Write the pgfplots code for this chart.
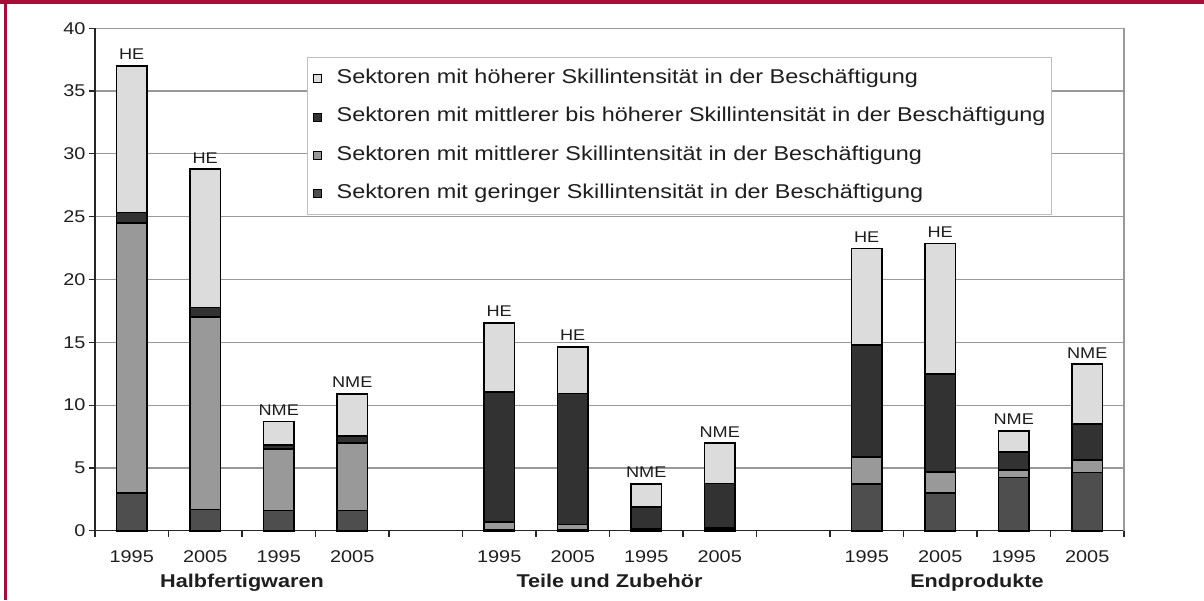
\documentclass[border=0pt]{standalone}
\usepackage{fontspec}
\setmainfont{Liberation Sans}[FakeStretch=1.17]
\usepackage{pgfplots}
\pgfplotsset{compat=1.18}
\usepackage{pgfplotstable}
\usetikzlibrary{calc}
\definecolor{frameRed}{RGB}{165,15,55}
\definecolor{cG}{RGB}{78,78,78}
\definecolor{cM}{RGB}{153,153,153}
\definecolor{cMH}{RGB}{50,50,50}
\definecolor{cH}{RGB}{220,220,220}
\definecolor{txt}{RGB}{30,30,30}
\pgfplotstableread{
x  ger   mit   mh    hoe   z      lab
0  3.00  21.50 0.85  11.65 0.001  HE
1  1.70  15.33 0.75  11.00 0.001  HE
2  1.60  4.90  0.32  1.89  0.001  NME
3  1.60  5.40  0.56  3.32  0.001  NME
5  0.10  0.60  10.36 5.50  0.001  HE
6  0.10  0.40  10.43 3.71  0.001  HE
7  0.10  0.05  1.76  1.81  0.001  NME
8  0.15  0.10  3.52  3.19  0.001  NME
10 3.72  2.17  8.89  7.70  0.001  HE
11 2.98  1.69  7.80  10.41 0.001  HE
12 4.25  0.58  1.46  1.67  0.001  NME
13 4.62  1.01  2.86  4.76  0.001  NME
}\data
\begin{document}
\begin{tikzpicture}[x=1pt,y=1pt]
\begin{axis}[
  name=ax, scale only axis, clip=false,
  width=1029pt, height=502.4pt,
  xmin=-0.5, xmax=13.5, ymin=0, ymax=40,
  ybar stacked, bar width=0.42,
  ytick={0,5,...,40},
  ymajorgrids, grid style={line width=1.2pt, color=black!40},
  axis x line*=bottom, axis y line*=left,
  axis line style={line width=1.5pt, color=black!85},
  xtick={0,1,2,3,5,6,7,8,10,11,12,13},
  xticklabels={1995,2005,1995,2005,1995,2005,1995,2005,1995,2005,1995,2005},
  minor xtick={-0.5,0.5,...,13.5},
  major x tick style={draw=none},
  minor tick length=6pt,
  xticklabel style={anchor=base, yshift=-25.8pt},
  tick align=outside, major tick length=6pt,
  tick style={line width=1.2pt, color=black!85},
  tick label style={font=\fontsize{17}{20}\selectfont, text=txt},
  /pgf/number format/assume math mode=true,
  legend style={at={(0.2057,0.9423)}, anchor=north west, draw=black!25,
     line width=0.8pt, fill=white, font=\fontsize{20}{24}\selectfont, text=txt,
     inner xsep=6pt, inner ysep=12pt, row sep=20.3pt,
     nodes={inner sep=0pt, text height=14pt, text depth=4pt}},
  legend cell align=left, reverse legend,
  legend image code/.code={\draw[#1, draw=black, line width=0.8pt] (0pt,-4pt) rectangle (8pt,4pt); \path (0pt,0pt) (22pt,0pt);},
]
\addplot[fill=cG, draw=black, line width=1.6pt] table[x=x, y=ger] {\data};
\addlegendentry{Sektoren mit geringer Skillintensität in der Beschäftigung}
\addplot[fill=cM, draw=black, line width=1.6pt] table[x=x, y=mit] {\data};
\addlegendentry{Sektoren mit mittlerer Skillintensität in der Beschäftigung}
\addplot[fill=cMH, draw=black, line width=1.6pt] table[x=x, y=mh] {\data};
\addlegendentry{Sektoren mit mittlerer bis höherer Skillintensität in der Beschäftigung}
\addplot[fill=cH, draw=black, line width=1.6pt] table[x=x, y=hoe] {\data};
\addlegendentry{Sektoren mit höherer Skillintensität in der Beschäftigung}
\addplot[draw=none, fill=none, forget plot, point meta=explicit symbolic,
   nodes near coords={\fontsize{15.5}{18}\selectfont\pgfplotspointmeta},
   every node near coord/.append style={text=txt, anchor=south, inner sep=0pt, yshift=6pt}]
   table[x=x, y=z, meta=lab] {\data};
\draw[black!40, line width=1.2pt] (rel axis cs:1,0) -- (rel axis cs:1,1);
\coordinate (bl) at (rel axis cs:0,0);
\node[anchor=base, font=\bfseries\fontsize{18.5}{22}\selectfont, text=txt] at (axis cs:1.5,0) [yshift=-56.3pt] {Halbfertigwaren};
\node[anchor=base, font=\bfseries\fontsize{18.5}{22}\selectfont, text=txt] at (axis cs:6.5,0) [yshift=-56.3pt] {Teile und Zubehör};
\node[anchor=base, font=\bfseries\fontsize{18.5}{22}\selectfont, text=txt] at (axis cs:11.5,0) [yshift=-56.3pt] {Endprodukte};
\end{axis}
\pgfresetboundingbox
\useasboundingbox ($(bl)+(-95,-69.3)$) coordinate (P0) rectangle ++(1204,600);
\fill[frameRed] ($(P0)+(0,596)$) rectangle ++(1204,4);
\fill[frameRed] ($(P0)+(4.3,0)$) rectangle ++(2.4,600);
\end{tikzpicture}
\end{document}
